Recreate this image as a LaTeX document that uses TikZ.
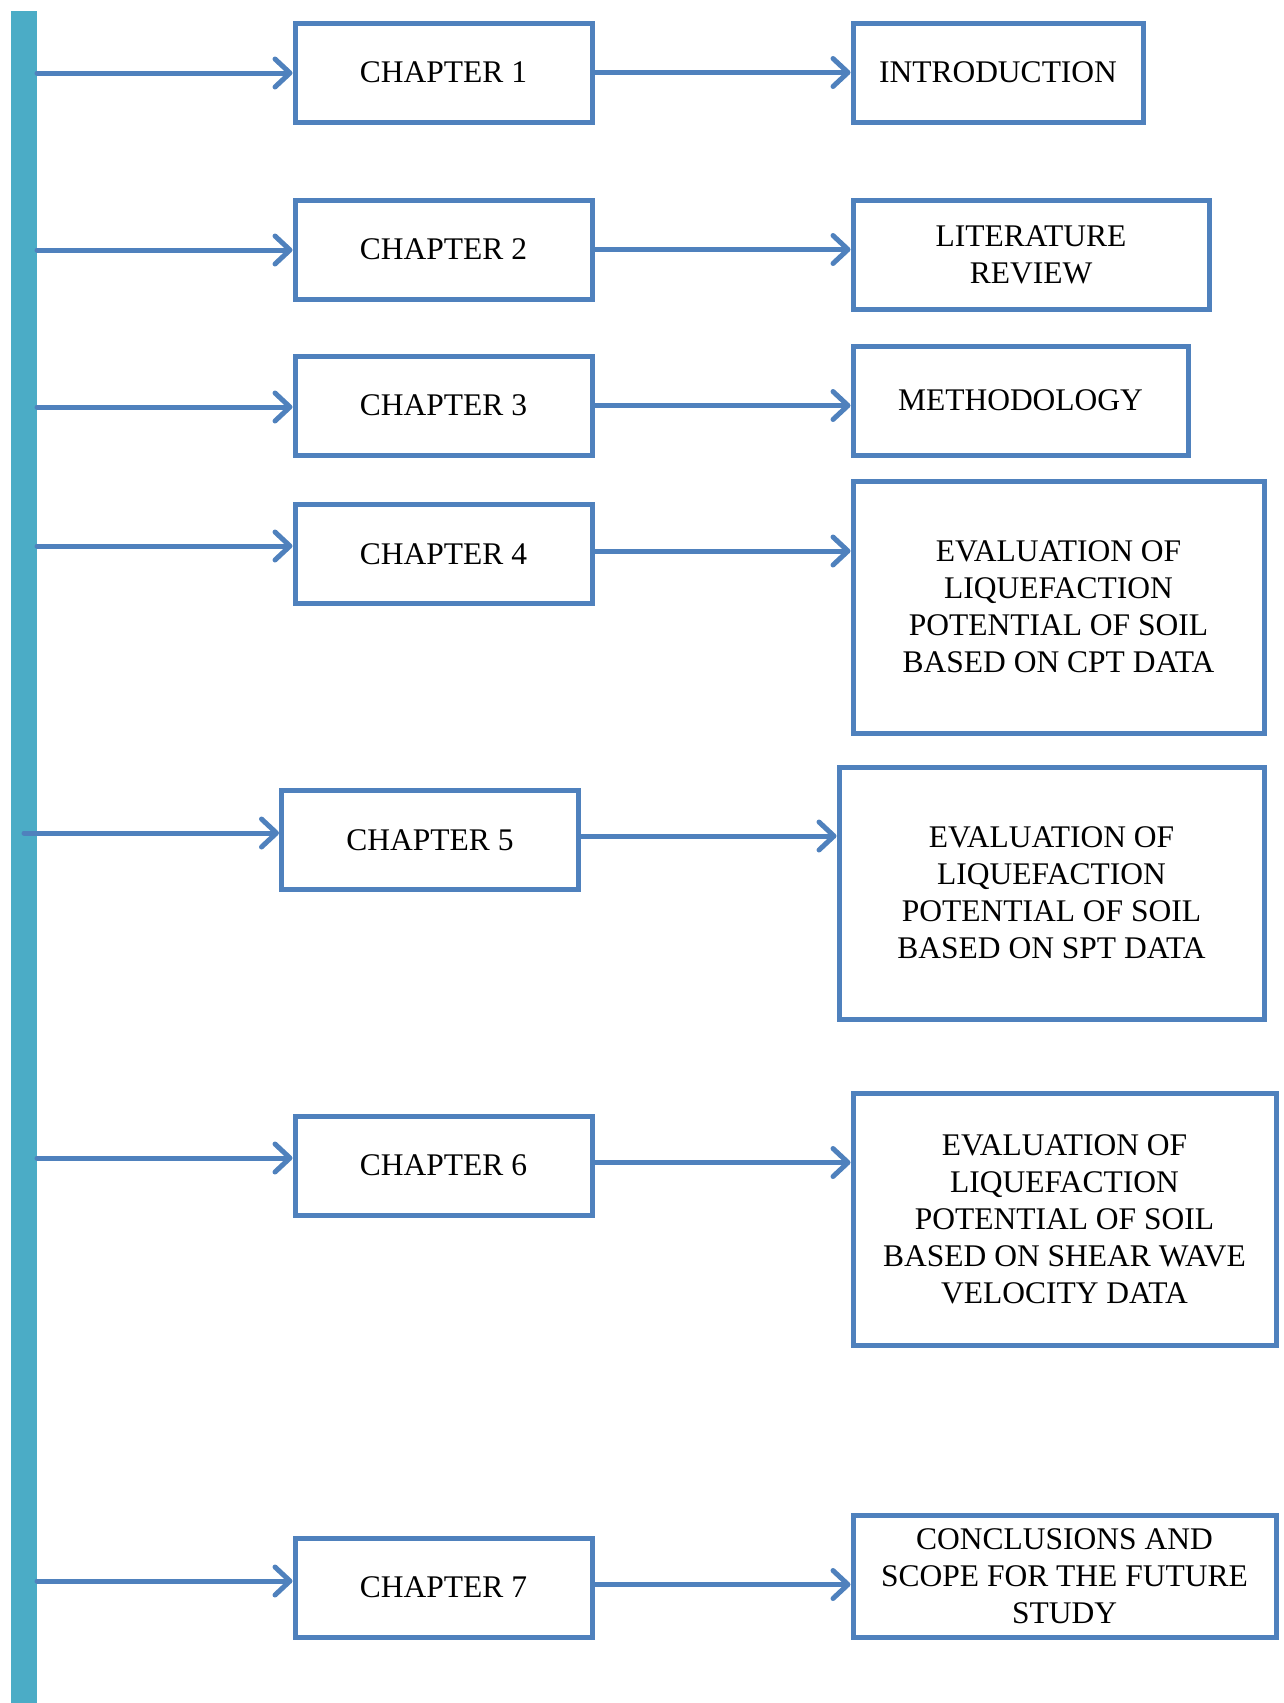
\documentclass[tikz,border=0pt]{standalone}
\usepackage{fontspec}
\setmainfont{Liberation Serif}
\usetikzlibrary{arrows.meta}
\definecolor{boxblue}{HTML}{4F81BD}
\definecolor{barblue}{HTML}{4BACC6}

\begin{document}
\begin{tikzpicture}[x=1pt, y=-1pt,
    every node/.style = {shape=rectangle, draw=boxblue, line width=5pt, align=center,
        font=\fontsize{31.5}{37}\selectfont, inner sep=0pt},
    chapbox/.style = {minimum width=297pt, minimum height=99pt},
    arr/.style = {draw=boxblue, line width=5pt, line cap=round,
        -{Straight Barb[length=15pt, width=28pt, line cap=round, line join=round]}}]
     \useasboundingbox (0,0) rectangle (1283,1703);
     \fill[barblue] (11,11) rectangle (37,1703);
     % chapters
     \node[chapbox] (c1) at (443.5,72.5) {CHAPTER 1};
     \node[chapbox] (c2) at (443.5,249.5) {CHAPTER 2};
     \node[chapbox] (c3) at (443.5,405.5) {CHAPTER 3};
     \node[chapbox] (c4) at (443.5,554) {CHAPTER 4};
     \node[chapbox] (c5) at (430,840) {CHAPTER 5};
     \node[chapbox] (c6) at (443.5,1165.5) {CHAPTER 6};
     \node[chapbox] (c7) at (443.5,1587.5) {CHAPTER 7};
     % topics
     \node[minimum width=290pt, minimum height=99pt] (t1) at (998,72.5) {INTRODUCTION};
     \node[minimum width=356pt, minimum height=109pt] (t2) at (1031,254.5) {LITERATURE\\REVIEW};
     \node[minimum width=335pt, minimum height=109pt] (t3) at (1020.5,400.5) {METHODOLOGY};
     \node[minimum width=411pt, minimum height=252pt] (t4) at (1058.5,607)
         {EVALUATION OF\\LIQUEFACTION\\POTENTIAL OF SOIL\\BASED ON CPT DATA};
     \node[minimum width=425pt, minimum height=252pt] (t5) at (1051.5,893)
         {EVALUATION OF\\LIQUEFACTION\\POTENTIAL OF SOIL\\BASED ON SPT DATA};
     \node[minimum width=423pt, minimum height=252pt] (t6) at (1064.5,1219)
         {EVALUATION OF\\LIQUEFACTION\\POTENTIAL OF SOIL\\BASED ON SHEAR WAVE\\VELOCITY DATA};
     \node[minimum width=423pt, minimum height=122pt] (t7) at (1064.5,1576)
         {CONCLUSIONS AND\\SCOPE FOR THE FUTURE\\STUDY};
     % arrows from the bar
     \coordinate (s1) at (37,73);
     \coordinate (s2) at (37,250);
     \coordinate (s3) at (37,407);
     \coordinate (s4) at (37,546);
     \coordinate (s5) at (24,833);
     \coordinate (s6) at (37,1158);
     \coordinate (s7) at (37,1581);
     \draw[arr] (s1) -- (s1 -| c1.west);
     \draw[arr] (s2) -- (s2 -| c2.west);
     \draw[arr] (s3) -- (s3 -| c3.west);
     \draw[arr] (s4) -- (s4 -| c4.west);
     \draw[arr] (s5) -- (s5 -| c5.west);
     \draw[arr] (s6) -- (s6 -| c6.west);
     \draw[arr] (s7) -- (s7 -| c7.west);
     % chapter to topic
     \draw[arr] (c1.east) -- (c1.east -| t1.west);
     \draw[arr] (c2.east) -- (c2.east -| t2.west);
     \draw[arr] (c3.east) -- (c3.east -| t3.west);
     \draw[arr] ([yshift=3pt]c4.east) -- ([yshift=3pt]c4.east -| t4.west);
     \draw[arr] ([yshift=4pt]c5.east) -- ([yshift=4pt]c5.east -| t5.west);
     \draw[arr] ([yshift=3pt]c6.east) -- ([yshift=3pt]c6.east -| t6.west);
     \draw[arr] ([yshift=3pt]c7.east) -- ([yshift=3pt]c7.east -| t7.west);
\end{tikzpicture}
\end{document}
